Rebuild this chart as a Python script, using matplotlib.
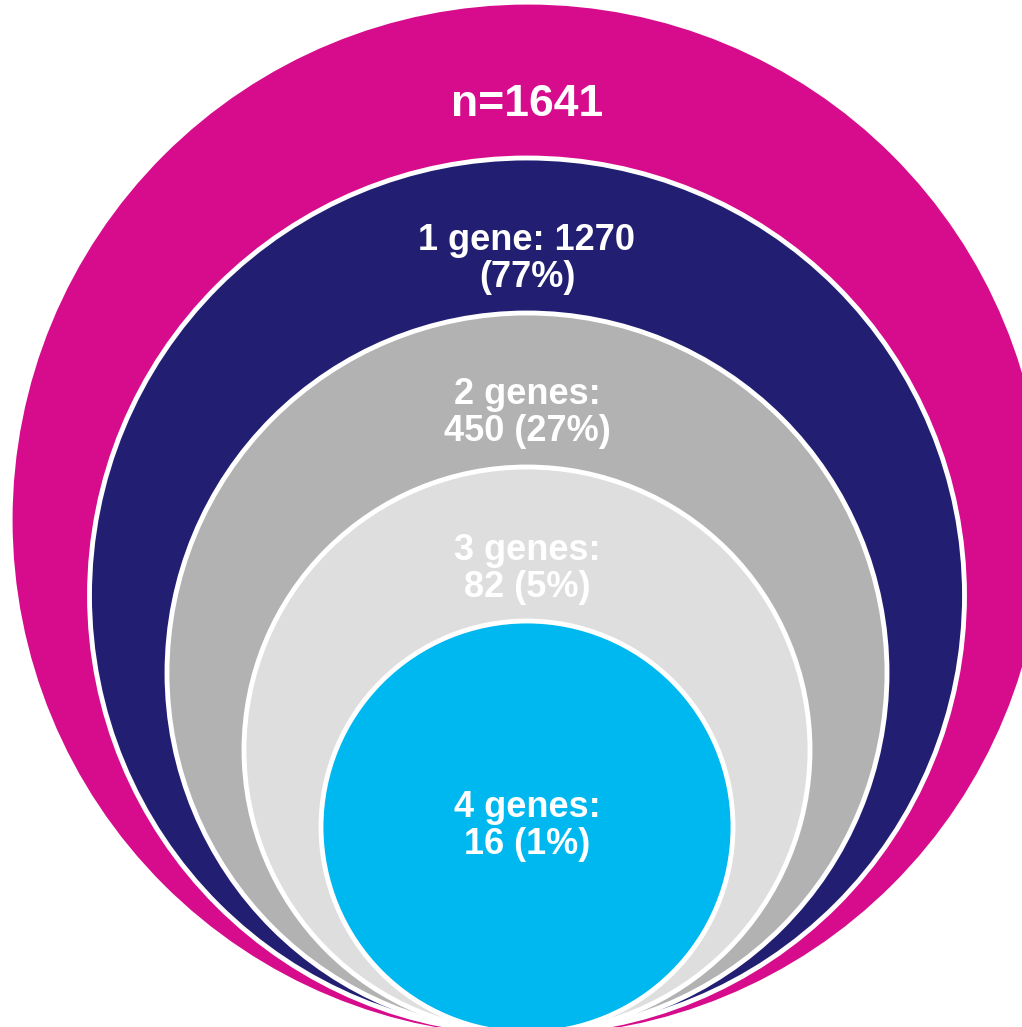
import matplotlib
matplotlib.use("Agg")
import matplotlib.pyplot as plt
from matplotlib.patches import Circle

# patients by number of genes affected
total = 1641
gene_counts = [1, 2, 3, 4]
patients = [1270, 450, 82, 16]

ring_colors = ["#d60c8c", "#221f72", "#b2b2b2", "#dedede", "#00b8f0"]

# nested circles, all touching at the bottom point
bottom = 1033
cx = 527
tops = [7, 158, 313, 467, 621]
label_y = [105, 259, 413, 569, 826]

plt.rcParams["font.family"] = ["Liberation Sans", "DejaVu Sans"]

fig = plt.figure(figsize=(10.22, 10.27), dpi=100)
ax = fig.add_axes([0, 0, 1, 1])
ax.set_xlim(0, 1022)
ax.set_ylim(1027, 0)
ax.set_aspect("equal")
ax.axis("off")

for i, (top, col) in enumerate(zip(tops, ring_colors)):
    r = (bottom - top) / 2
    c = Circle((cx + (1 if i == 0 else 0), top + r), r, facecolor=col,
               edgecolor="white" if i > 0 else col, linewidth=3.5, zorder=i)
    ax.add_patch(c)

labels = ["n=%d" % total]
for g, n in zip(gene_counts, patients):
    pct = round(100 * n / total)
    if g == 1:
        labels.append("%d gene: %d\n(%d%%)" % (g, n, pct))
    else:
        labels.append("%d genes:\n%d (%d%%)" % (g, n, pct))

for i, (txt, y) in enumerate(zip(labels, label_y)):
    ax.text(cx, y, txt, ha="center", va="center", color="white",
            fontsize=32 if i == 0 else 26, fontweight="bold",
            linespacing=1.1, zorder=10)

fig.savefig("out.png", dpi=100)
